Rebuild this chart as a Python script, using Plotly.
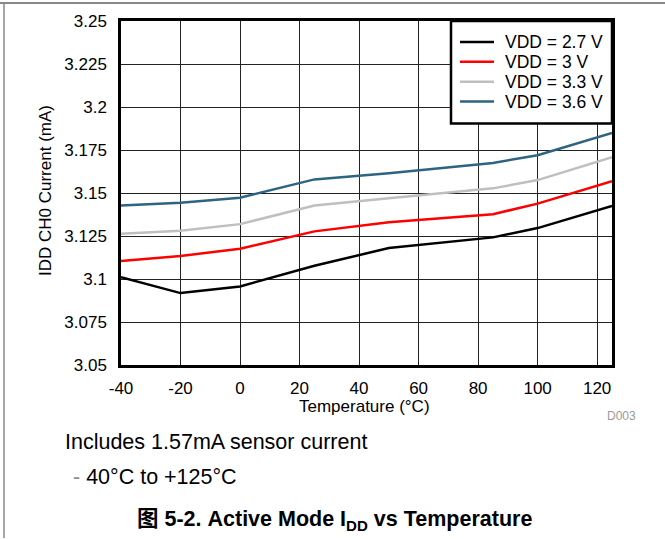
import plotly.graph_objects as go

temperature = [-40, -20, 0, 25, 50, 85, 100, 125]
vdd_2_7 = [3.1010, 3.0918, 3.0957, 3.1077, 3.1180, 3.1242, 3.1296, 3.1425]
vdd_3_0 = [3.1105, 3.1134, 3.1176, 3.1277, 3.1330, 3.1377, 3.1438, 3.1569]
vdd_3_3 = [3.1263, 3.1280, 3.1319, 3.1427, 3.1470, 3.1527, 3.1575, 3.1708]
vdd_3_6 = [3.1427, 3.1444, 3.1473, 3.1579, 3.1615, 3.1675, 3.1720, 3.1849]

series_names = ["VDD = 2.7 V", "VDD = 3 V", "VDD = 3.3 V", "VDD = 3.6 V"]
series_colors = ["#000000", "#ff0000", "#bfbfbf", "#2d6482"]

x_ticks = [-40, -20, 0, 20, 40, 60, 80, 100, 120]
x_ticktext = ["-40", "-20", "0", "20", "40", "60", "80", "100", "120"]
y_ticks = [3.05, 3.075, 3.1, 3.125, 3.15, 3.175, 3.2, 3.225, 3.25]
y_ticktext = ["3.05", "3.075", "3.1", "3.125", "3.15", "3.175", "3.2", "3.225", "3.25"]

FONT = "Liberation Sans, Arial, sans-serif"

fig = go.Figure()
for name, color, vals in zip(series_names, series_colors,
                             [vdd_2_7, vdd_3_0, vdd_3_3, vdd_3_6]):
    fig.add_trace(go.Scatter(x=temperature, y=vals, mode="lines", name=name,
                             line=dict(color=color, width=2.5), showlegend=False))

W, H = 665, 539
L, R, T, B = 121, 53, 19, 174
pw, ph = W - L - R, H - T - B

def px(x):
    return (x - L) / pw

def py(y):
    return (H - B - y) / ph

fig.update_layout(
    width=W, height=H,
    margin=dict(l=L, r=R, t=T, b=B, pad=0),
    paper_bgcolor="white", plot_bgcolor="white",
    font=dict(family=FONT, size=17, color="black"),
    showlegend=False,
    xaxis=dict(range=[-40, 125], tickvals=x_ticks, ticktext=x_ticktext, showgrid=True,
               gridcolor="#222", gridwidth=1, zeroline=False,
               showline=True, linecolor="black", linewidth=2.5, mirror=True,
               ticks="", tickfont=dict(size=17), ticklabelstandoff=6),
    yaxis=dict(range=[3.05, 3.25], tickvals=y_ticks, ticktext=y_ticktext,
               showgrid=True, gridcolor="#222", gridwidth=1, zeroline=False,
               showline=True, linecolor="black", linewidth=2.5, mirror=True,
               ticks="", tickfont=dict(size=17), ticklabelstandoff=8),
)

annotations = [
    dict(text="Temperature (°C)", x=px(364), y=py(407), xref="paper", yref="paper",
         showarrow=False, font=dict(size=17), xanchor="center", yanchor="middle"),
    dict(text="IDD CH0 Current (mA)", x=px(45), y=py(190), xref="paper", yref="paper",
         showarrow=False, font=dict(size=17), textangle=-90,
         xanchor="center", yanchor="middle"),
    dict(text="D003", x=px(638), y=py(416), xref="paper", yref="paper",
         showarrow=False, font=dict(size=12, color="#9a9a9a"),
         xanchor="right", yanchor="middle"),
    dict(text="Includes 1.57mA sensor current", x=px(63), y=py(442),
         xref="paper", yref="paper", showarrow=False, font=dict(size=21.5),
         xanchor="left", yanchor="middle"),
    dict(text="<span style='color:#8a8a8a'>-</span> 40°C to +125°C", x=px(71), y=py(478),
         xref="paper", yref="paper", showarrow=False, font=dict(size=21.5),
         xanchor="left", yanchor="middle"),
    dict(text="<b>图 5-2. Active Mode I<sub>DD</sub> vs Temperature</b>",
         x=px(334), y=py(521), xref="paper", yref="paper", showarrow=False,
         font=dict(size=21.5, family="Liberation Sans, Arial, Noto Sans CJK SC, sans-serif"),
         xanchor="center", yanchor="middle"),
]

shapes = [
    dict(type="line", xref="paper", yref="paper", x0=px(0), x1=px(665),
         y0=py(1), y1=py(1), line=dict(color="#888888", width=2)),
    dict(type="line", xref="paper", yref="paper", x0=px(4), x1=px(4),
         y0=py(0), y1=py(539), line=dict(color="#888888", width=1.5)),
    # legend box
    dict(type="rect", xref="paper", yref="paper", x0=px(451), x1=px(612),
         y0=py(122), y1=py(19), fillcolor="white",
         line=dict(color="black", width=2.5), layer="above"),
]

legend_rows = [40, 60, 80, 100]
for name, color, yrow in zip(series_names, series_colors, legend_rows):
    shapes.append(dict(type="line", xref="paper", yref="paper",
                       x0=px(460), x1=px(494), y0=py(yrow), y1=py(yrow),
                       line=dict(color=color, width=2.5), layer="above"))
    annotations.append(dict(text=name, x=px(503), y=py(yrow), xref="paper",
                            yref="paper", showarrow=False, font=dict(size=17.5),
                            xanchor="left", yanchor="middle"))

fig.update_layout(annotations=annotations, shapes=shapes)

fig.write_html("out.html", config={"displayModeBar": False},
               post_script="document.body.style.margin='0';document.body.style.padding='0';")
